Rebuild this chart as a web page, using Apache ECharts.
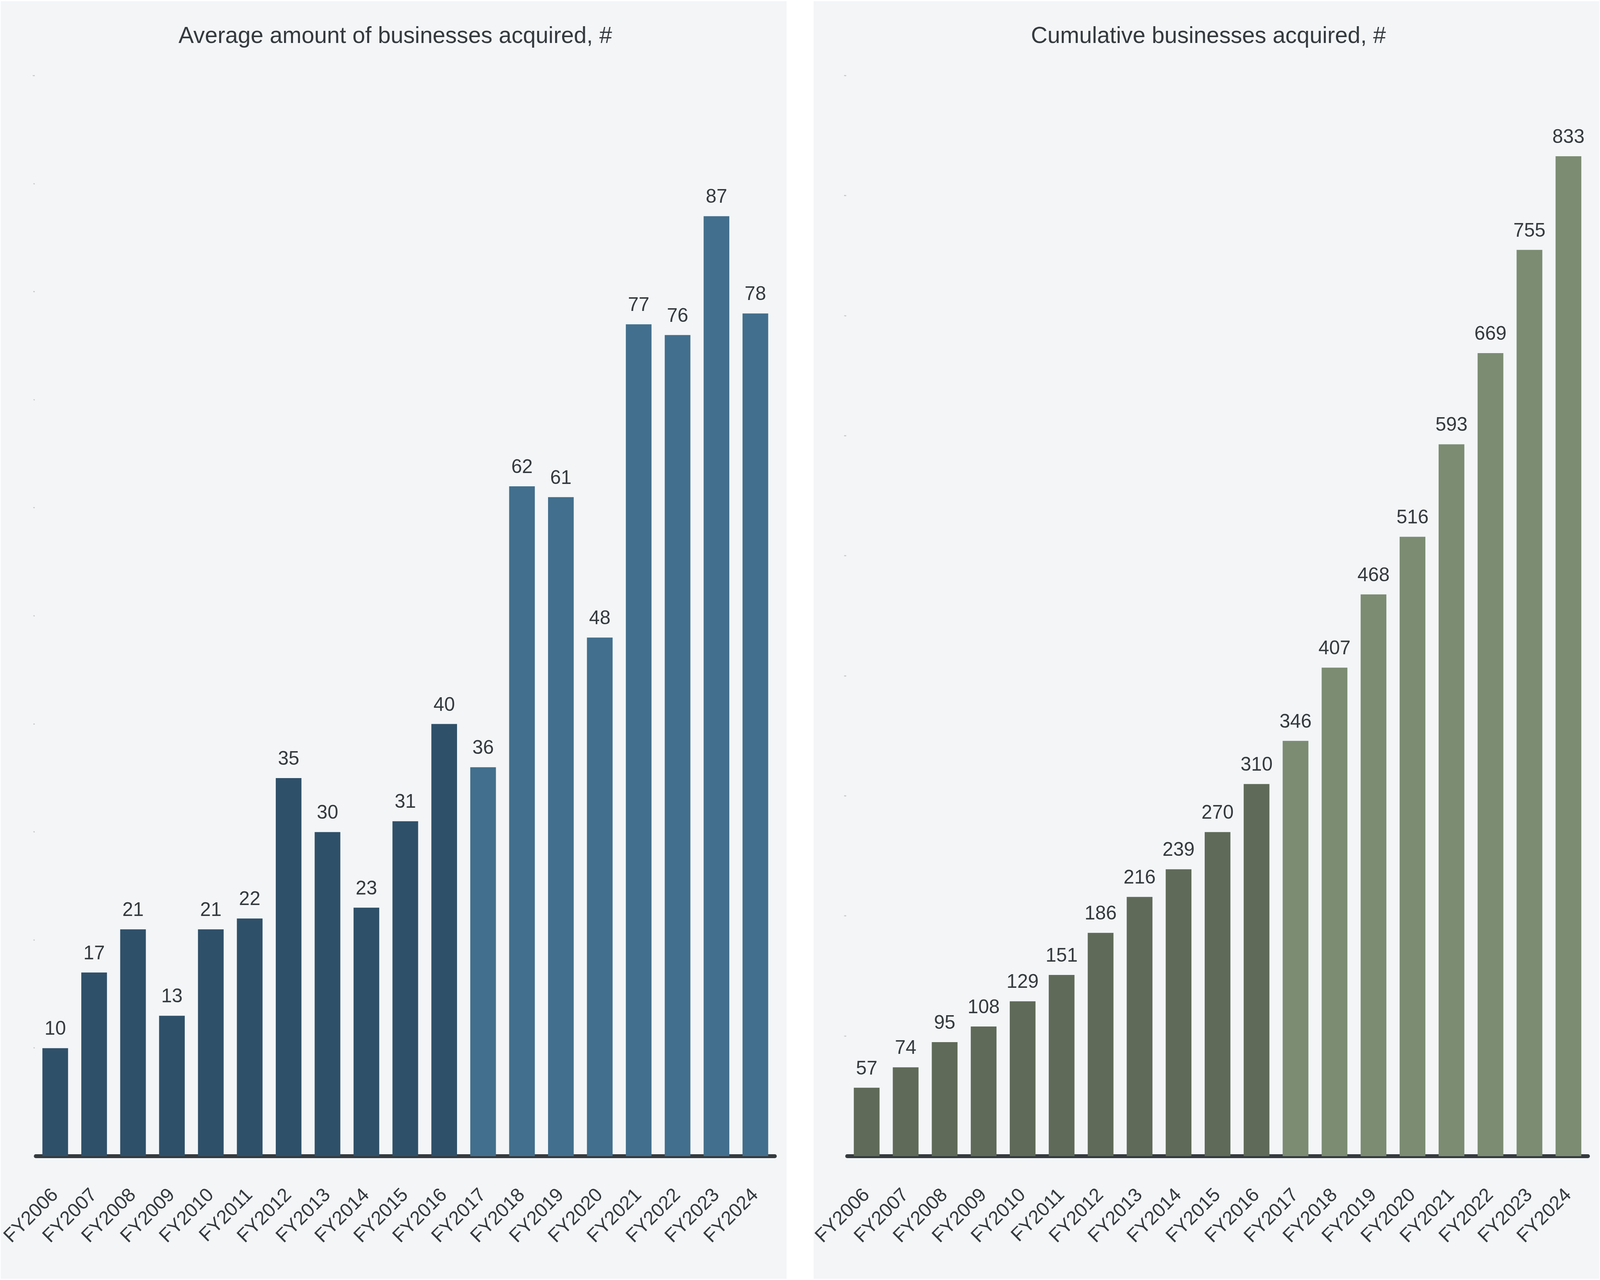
<!DOCTYPE html>
<html>
<head>
<meta charset="utf-8">
<script src="https://cdn.jsdelivr.net/npm/echarts@6/dist/echarts.min.js"></script>
<style>
html,body{margin:0;padding:0;background:#ffffff;overflow:hidden;}
#chart{width:100vw;height:100vh;}
</style>
</head>
<body>
<div id="chart"></div>
<script>
const categories = ['FY2006','FY2007','FY2008','FY2009','FY2010','FY2011','FY2012','FY2013','FY2014','FY2015','FY2016','FY2017','FY2018','FY2019','FY2020','FY2021','FY2022','FY2023','FY2024'];
const averageAcquired = [10,17,21,13,21,22,35,30,23,31,40,36,62,61,48,77,76,87,78];
const cumulativeAcquired = [57,74,95,108,129,151,186,216,239,270,310,346,407,468,516,593,669,755,833];
const leftTitle = 'Average amount of businesses acquired, #';
const rightTitle = 'Cumulative businesses acquired, #';
const splitIndex = 11; // FY2017 onward drawn in the lighter shade

const FONT = 'Liberation Sans, Arial, Helvetica, sans-serif';
const TEXT = '#343a3e';
const PANEL = '#f3f5f7';

// Layout designed for 6765x3277; scaled to the actual viewport.
const W = window.innerWidth, H = window.innerHeight;
const sx = W/6765, sy = H/3277;
const s = Math.min(1, Math.min(sx, sy)*1.1, Math.max(sx, sy));
const X = v => v*sx, Y = v => v*sy, F = v => v*s;

const chart = echarts.init(document.getElementById('chart'), null, {renderer:'canvas', width:W, height:H});

function colorFn(dark, light){
  return function(p){ return p.dataIndex >= splitIndex ? light : dark; };
}
const xAxisBase = (gridIndex) => ({
  type:'category', gridIndex, data:categories,
  axisTick:{show:false},
  axisLine:{show:true, lineStyle:{color:TEXT, width:Math.max(2, Y(10))}},
  axisLabel:{rotate:45, fontSize:F(74), color:TEXT, fontFamily:FONT, margin:Y(92), interval:0}
});
const yAxisBase = (gridIndex, max, interval) => ({
  type:'value', gridIndex, min:0, max, interval,
  splitLine:{show:false}, axisLine:{show:false}, axisTick:{show:false},
  axisLabel:{fontSize:Math.max(F(5),3), color:'#777', margin:X(4), fontFamily:FONT}
});
const labelDist = Math.max(2, Y(36) - 0.26*F(74));

chart.setOption({
  backgroundColor:'#ffffff',
  animation:false,
  graphic:[
    {type:'rect', z:-10, shape:{x:X(3), y:Y(3), width:X(3323), height:Y(3271)}, style:{fill:PANEL}},
    {type:'rect', z:-10, shape:{x:X(3440), y:Y(3), width:X(3322), height:Y(3271)}, style:{fill:PANEL}}
  ],
  title:[
    {text:leftTitle, left:X(1663), top:Y(90) - 0.53*F(88), textAlign:'center', textStyle:{fontSize:F(88), fontWeight:'normal', color:TEXT, fontFamily:FONT}},
    {text:rightTitle, left:X(5101), top:Y(90) - 0.53*F(88), textAlign:'center', textStyle:{fontSize:F(88), fontWeight:'normal', color:TEXT, fontFamily:FONT}}
  ],
  grid:[
    {left:X(147), right:X(6765-3276), top:Y(194), bottom:Y(3277-2960)},
    {left:X(3582), right:X(6765-6714), top:Y(194), bottom:Y(3277-2960)}
  ],
  xAxis:[xAxisBase(0), xAxisBase(1)],
  yAxis:[yAxisBase(0,100,10), yAxisBase(1,900,100)],
  series:[
    {type:'bar', xAxisIndex:0, yAxisIndex:0, data:averageAcquired, barCategoryGap:'34%',
     itemStyle:{color:colorFn('#2f5069','#426f8d')},
     label:{show:true, position:'top', distance:labelDist, fontSize:F(74), color:TEXT, fontFamily:FONT}},
    {type:'bar', xAxisIndex:1, yAxisIndex:1, data:cumulativeAcquired, barCategoryGap:'34%',
     itemStyle:{color:colorFn('#5f6a58','#7b8c72')},
     label:{show:true, position:'top', distance:labelDist, fontSize:F(74), color:TEXT, fontFamily:FONT}}
  ]
});
window.addEventListener('resize', () => chart.resize());
</script>
</body>
</html>
